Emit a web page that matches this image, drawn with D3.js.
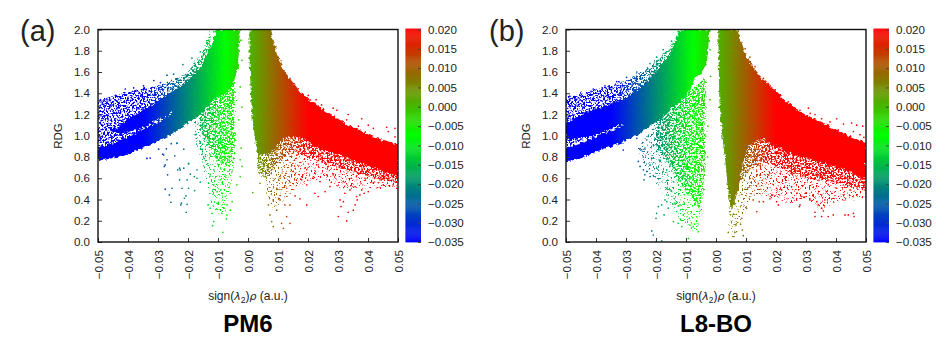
<!DOCTYPE html>
<html>
<head>
<meta charset="utf-8">
<script src="https://cdn.jsdelivr.net/npm/d3@7"></script>
<style>
  body { margin: 0; background: #fff; }
  text { font-family: "Liberation Sans", Arial, sans-serif; fill: #222; }
</style>
</head>
<body>
<script>
var xTicks = [-0.05, -0.04, -0.03, -0.02, -0.01, 0, 0.01, 0.02, 0.03, 0.04, 0.05];
var yTicks = [0, 0.2, 0.4, 0.6, 0.8, 1, 1.2, 1.4, 1.6, 1.8, 2];
var colorTicks = [-0.035, -0.03, -0.025, -0.02, -0.015, -0.01, -0.005, 0, 0.005, 0.01, 0.015, 0.02];
var colorStops = [-0.035, -0.0075, 0.02];
var colorNames = ['#0000ff', '#00ff00', '#ff0000'];

// the thousands of dots can't be read one by one, so the clouds are [x, low, high] outlines
// speckle on them is only an svg filter, not data
var pm6Dense = [
  [[-.05,.76,.89],[-.045,.79,.93],[-.04,.83,.99],[-.035,.89,1.06],[-.03,.95,1.12],[-.025,1.02,1.21]],
  [[-.046,1.05,1.06],[-.043,1.02,1.08],[-.04,1.03,1.16],[-.035,1.09,1.24],[-.03,1.15,1.33],[-.025,1.23,1.42]],
  [[-.025,1.02,1.42],[-.02,1.12,1.52],[-.015,1.22,1.68],[-.012,1.33,1.87],[-.0105,1.38,2],[-.0092,1.37,2],[-.0065,1.42,2],[-.0048,1.5,2],[-.0033,1.65,2],[-.0027,1.98,2]],
  [[.0005,1.7,2],[.0012,1.25,2],[.0023,.97,2],[.0035,.82,2],[.0073,.84,2],[.0095,.9,1.78],[.0118,.97,1.62],[.0145,1,1.52],[.0173,.98,1.42],[.02,.95,1.35],[.022,.91,1.31],[.025,.87,1.25],[.0273,.85,1.2],[.03,.83,1.16],[.032,.81,1.12],[.035,.77,1.08],[.04,.72,1.02],[.043,.69,.98],[.045,.67,.96],[.05,.62,.92]]
];
var pm6Thick = [
  [[-.05,.88,1.33],[-.04,.95,1.42],[-.03,1.1,1.47],[-.025,1.2,1.52],[-.02,1.3,1.6],[-.015,1.45,1.8],[-.0125,1.7,2]],
  [[-.016,1.05,1.2],[-.012,.85,1.35],[-.0095,.75,1.45],[-.0065,.7,1.5],[-.0045,.85,1.5]],
  [[.003,.65,.95],[.006,.6,.9],[.01,.75,1],[.015,.85,1.02],[.02,.8,.98],[.03,.7,.85],[.04,.62,.75],[.05,.55,.65]]
];
var pm6Thin = [
  [[-.018,1,1.12],[-.014,.6,1.25],[-.012,.32,1.35],[-.0095,.25,1.45],[-.0075,.3,1.5],[-.0055,.6,1.5],[-.004,.8,1.5]],
  [[.003,.75,.95],[.0051,.7,.85],[.0062,.44,.85],[.0084,.3,.9],[.012,.4,1],[.018,.55,1],[.025,.6,.9],[.032,.5,.85],[.04,.5,.78],[.05,.52,.65]]
];
var pm6Dots = [
  [-.0326,.79],[-.0298,.874],[-.0272,.877],[-.0256,.925],[-.0237,.931],[-.0214,.874],[-.0284,.827],[-.027,.774],[-.0244,.811],[-.0279,.711],
  [-.0228,.695],[-.0198,.736],[-.0214,.695],[-.0268,.632],[-.0234,.679],[-.0192,.638],[-.017,.679],[-.0179,.616],[-.017,.6],[-.0159,.563],
  [-.0228,.585],[-.0203,.585],[-.0253,.506],[-.0276,.497],[-.022,.506],[-.0198,.506],[-.0178,.484],[-.0262,.443],[-.0207,.434],[-.0212,.412],
  [-.0257,.374],[-.0222,.365],[-.0224,.349],[-.0203,.355],[-.0206,.28],
  [-.0084,.091],[-.0118,.154],[-.0114,.192],[-.012,.27],[-.0126,.318],[-.0133,.349],[-.0087,.27],[-.0072,.217],[-.007,.255],[-.0059,.3],
  [-.0103,.365],[-.0081,.318],[-.007,.349],[-.0053,.38],[-.0076,.428],[-.0059,.459],[-.0037,.538],[-.0114,.538],[-.0131,.553],[-.0103,.475],
  [-.0092,.585],[-.0126,.632],[-.0114,.679],[-.0076,.632],[-.0053,.664],[-.0026,.616],[-.002,.711],[-.0142,.805],[-.0126,.82],[-.0103,.789],
  [-.0076,.774],[-.0048,.789],[-.0023,.884],[-.0026,.774],[-.0161,.947],[-.0176,1.01],[-.0137,.915],[-.0092,.962],[-.0059,.947],
  [-.0492,1.34],[-.047,1.34],[-.0442,1.38],[-.0409,1.44],[-.0381,1.45],[-.0348,1.47],[-.0314,1.52],[-.0292,1.5],[-.027,1.57],[-.0248,1.58],
  [-.0217,1.67],[-.0187,1.73],[-.0159,1.79],[-.0137,1.87],[-.0114,1.98],[-.0098,1.98],[-.0023,1.9],[-.002,1.71],[-.0026,1.46],[-.002,1.27],
  [-.0031,1.15],[-.0042,1.02],[-.0437,.8],[-.0348,.93],[-.0337,.787],[-.0281,.819],[-.0237,.929],[-.0276,.725],[-.0226,.678],[-.0198,.74],
  [.0084,1.87],[.0093,1.84],[.0101,1.74],[.0112,1.67],[.014,1.54],[.0201,1.38],[.0227,1.34],[.0245,1.29],[.0284,1.26],[.0296,1.24],
  [.0334,1.2],[.0329,1.15],[.0379,1.16],[.0401,1.1],[.0418,1.07],[.0368,1.09],[.0462,1.08],[.049,1.07],[.049,.99],[.0468,1.04],
  [.0301,.24],[.0329,.198],[.031,.333],[.0318,.38],[.0334,.28],[.0351,.3],[.0357,.35],[.0364,.396],[.0373,.443],[.0379,.49],
  [.0387,.459],[.0362,.428],[.0401,.475],[.0307,.396],[.0323,.459],[.034,.49],[.0357,.522],[.0273,.522],[.0257,.475],[.0234,.428],
  [.0223,.459],[.0196,.349],[.0173,.406],[.0157,.434],[.014,.349],[.0123,.349],[.014,.176],[.0118,.129],[.0112,.176],[.0129,.239],
  [.0084,.145],[.0079,.192],[.0073,.255],[.0096,.3],[.0068,.349],[.0107,.396],[.0084,.396],[.0016,.465],[.004,.553],[.0451,.538],
  [.0484,.538],[.044,.585],[.0496,.506],[.0418,.553],[.0196,.538],[.0179,.585],[.0218,.6],[.024,.569],[.0284,.632],[.0318,.569],
  [.0345,.6],[.039,.6],[.0412,.632],[.0462,.632],[.0151,.664],[.019,.695],[.0229,.726],[.0268,.711],[.0307,.711],[.0357,.695],
  [.0107,.6],[.0129,.506],[.0096,.506]
];

var l8boDense = [
  [[-.05,.76,.88],[-.0476,.77,.91],[-.045,.79,.94],[-.04,.85,.99],[-.035,.9,1.05],[-.031,.94,1.1]],
  [[-.05,.96,1.12],[-.045,.98,1.2],[-.04,1.01,1.25],[-.035,1.07,1.3],[-.031,1.12,1.34]],
  [[-.031,.94,1.34],[-.025,1.03,1.46],[-.02,1.13,1.6],[-.015,1.25,1.78],[-.012,1.33,2],[-.0098,1.37,2],[-.0065,1.55,2],[-.0045,1.6,2],[-.003,1.7,2],[-.0022,1.95,2]],
  [[.0008,1.9,2],[.0011,1.35,2],[.0019,1.05,2],[.003,.8,2],[.0071,.82,2],[.0102,.9,1.74],[.0114,.93,1.69],[.0158,.97,1.52],[.0202,.9,1.42],[.0237,.85,1.31],[.0258,.83,1.27],[.0314,.774,1.18],[.0414,.7,1.04],[.05,.585,.93]],
  [[.0024,.95,1.2],[.003,.79,1.2],[.0041,.47,1],[.0052,.3,.9],[.0075,.5,.9],[.009,.75,.95],[.011,.93,1]]
];
var l8boThick = [
  [[-.05,.9,1.37],[-.04,1,1.44],[-.03,1.1,1.52],[-.022,1.3,1.65],[-.015,1.6,1.85],[-.012,1.9,2]],
  [[-.02,.9,1.15],[-.016,.75,1.25],[-.012,.55,1.35],[-.009,.45,1.42],[-.0055,.3,1.5],[-.0038,.7,1.55]],
  [[.006,.55,.9],[.009,.6,.9],[.012,.7,.95],[.017,.75,.98],[.025,.65,.85],[.03,.6,.8],[.04,.55,.72],[.05,.48,.6]]
];
var l8boThin = [
  [[-.026,.85,.9],[-.023,.65,1],[-.02,.55,1.13],[-.016,.4,1.22],[-.0125,.22,1.33],[-.0095,.12,1.4],[-.0065,.1,1.47],[-.0045,.3,1.5],[-.0035,.7,1.55],[-.003,1.3,1.6]],
  [[.0045,.1,.6],[.006,.03,.6],[.0085,.2,.85],[.012,.45,.95],[.018,.42,.95],[.025,.36,.85],[.03,.42,.8],[.035,.3,.75],[.04,.38,.72],[.05,.42,.6]]
];
var l8boDots = [
  [-.0259,.758],[-.0248,.868],[-.0237,.884],[-.0253,.711],[-.0242,.679],[-.0231,.664],[-.0237,.632],[-.022,.616],[-.024,.585],[-.0214,.789],
  [-.0198,.852],[-.0187,.758],[-.0164,.884],[-.0209,.915],[-.0226,.994],[-.0176,.664],[-.0153,.726],[-.0198,.695],[-.0142,.569],[-.0164,.506],
  [-.0153,.491],[-.017,.396],[-.0181,.349],[-.0192,.333],[-.0198,.27],[-.0173,.255],[-.0159,.318],[-.02,.223],[-.0164,.38],[-.0214,.104],
  [-.0209,.066],[-.0181,.01],[-.02,.003],[-.0142,.192],[-.0131,.286],[-.0126,.176],[-.0114,.145],[-.0092,.035],[-.0087,.16],[-.0059,.097],
  [-.0076,.145],[-.012,.349],[-.0137,.365],[-.0109,.255],
  [-.0487,1.37],[-.0453,1.38],[-.0409,1.44],[-.037,1.47],[-.0331,1.51],[-.0298,1.55],[-.0264,1.6],[-.022,1.68],[-.0198,1.74],[-.0176,1.81],
  [-.0148,1.89],[-.0126,1.98],[-.002,1.81],[-.0018,1.56],[-.002,1.34],[-.0027,1.09],[-.0028,.8],[-.0309,.866],[-.0264,.976],[-.0231,.96],
  [-.0253,.88],[-.0242,.8],[-.022,.725],[-.0187,.77],[-.0164,.678],[-.012,.8],[-.0098,.71],[-.0064,.8],[-.0042,.71],[-.0148,.897],
  [-.0109,1.085],[-.0076,.96],
  [.0241,1.32],[.0258,1.26],[.0308,1.26],[.0314,1.21],[.0352,1.16],[.038,1.13],[.0402,1.16],[.0425,1.11],[.0452,1.12],[.0469,1.1],
  [.0489,1.09],[.0458,1.04],[.048,1.01],[.0493,.985],[.033,1.2],[.028,1.24],[.0213,1.38],[.0186,1.45],[.0158,1.54],[.013,1.65],
  [.0113,1.74],[.0097,1.82],
  [.033,.24],[.0352,.24],[.0374,.24],[.0391,.255],[.043,.255],[.0458,.27],[.046,.24],[.0441,.255],[.033,.28],[.0341,.349],
  [.0352,.318],[.0358,.292],[.0336,.38],[.0363,.396],[.0352,.443],[.0313,.396],[.028,.349],[.0278,.333],[.0208,.349],[.0202,.38],
  [.018,.406],[.0186,.443],[.0158,.38],[.0144,.38],[.0124,.396],[.0136,.286],[.0102,.318],[.0086,.223],[.0082,.167],[.0067,.16],
  [.0088,.113],[.0063,.09],[.0041,.09],[.0091,.06],[.0252,.522],[.0269,.459],[.0286,.428],[.0219,.49],[.023,.6],[.0269,.6],
  [.0297,.632],[.0336,.632],[.0374,.538],[.0402,.506],[.0436,.553],[.0469,.585],[.0497,.49],[.0386,.459],[.0202,.506],[.0447,.49],[.0491,.553]
];

var width = 951;
var height = 351;
var plotTop = 29.5;
var plotBottom = 242;
var plotWidth = 300;

var svg = d3.select('body').append('svg')
    .attr('width', width)
    .attr('height', height)
    .style('display', 'block');

var defs = svg.append('defs');

makeFilter('rough', null, 3);
makeFilter('speckle-thick', '0 0 0 0 0  0 0 0 0 0  0 0 0 0 0  9 0 0 0 -4.1', 7);
makeFilter('speckle-thin', '0 0 0 0 0  0 0 0 0 0  0 0 0 0 0  9 0 0 0 -5.2', 11);

var color = d3.scaleLinear().domain(colorStops).range(colorNames).clamp(true);
var y = d3.scaleLinear().domain([0, 2]).range([plotBottom, plotTop]);

drawPanel('a', 98, '(a)', 20, 'PM6', pm6Dense, pm6Thick, pm6Thin, pm6Dots);
drawPanel('b', 566, '(b)', 489, 'L8-BO', l8boDense, l8boThick, l8boThin, l8boDots);

function makeFilter(id, matrix, seed) {
    var f = defs.append('filter')
        .attr('id', id)
        .attr('filterUnits', 'userSpaceOnUse')
        .attr('x', 0).attr('y', 0)
        .attr('width', width).attr('height', height)
        .attr('color-interpolation-filters', 'sRGB');
    f.append('feTurbulence')
        .attr('type', 'fractalNoise').attr('baseFrequency', 0.3)
        .attr('numOctaves', 2).attr('seed', seed).attr('result', 'wobble');
    f.append('feDisplacementMap')
        .attr('in', 'SourceGraphic').attr('in2', 'wobble')
        .attr('scale', 5).attr('xChannelSelector', 'R').attr('yChannelSelector', 'G')
        .attr('result', 'moved');
    if (matrix) {
        f.append('feTurbulence')
            .attr('type', 'fractalNoise').attr('baseFrequency', 0.55)
            .attr('numOctaves', 2).attr('seed', seed + 1).attr('result', 'noise');
        f.append('feColorMatrix')
            .attr('in', 'noise').attr('type', 'matrix').attr('values', matrix).attr('result', 'grain');
        f.append('feComposite')
            .attr('in', 'moved').attr('in2', 'grain').attr('operator', 'in');
    }
}

function drawPanel(id, left, letter, letterX, title, dense, thick, thin, dots) {
    var x = d3.scaleLinear().domain([-0.05, 0.05]).range([left, left + plotWidth]);

    var gradient = defs.append('linearGradient')
        .attr('id', 'grad-' + id)
        .attr('gradientUnits', 'userSpaceOnUse')
        .attr('x1', x(-0.05)).attr('x2', x(0.05))
        .attr('y1', 0).attr('y2', 0);
    gradient.selectAll('stop')
        .data(d3.range(-0.05, 0.0501, 0.0025))
        .enter().append('stop')
        .attr('offset', (d) => { return (x(d) - left) / plotWidth })
        .attr('stop-color', (d) => { return color(d) });

    defs.append('clipPath').attr('id', 'clip-' + id)
        .append('rect')
        .attr('x', left).attr('y', plotTop)
        .attr('width', plotWidth).attr('height', plotBottom - plotTop);

    var area = d3.area()
        .x((d) => { return x(d[0]) })
        .y0((d) => { return y(d[1]) })
        .y1((d) => { return y(d[2]) });

    var marks = svg.append('g').attr('clip-path', 'url(#clip-' + id + ')');

    [[thin, 'speckle-thin'], [thick, 'speckle-thick'], [dense, 'rough']].forEach((layer) => {
        marks.append('g')
            .attr('filter', 'url(#' + layer[1] + ')')
            .selectAll('path')
            .data(layer[0])
            .enter().append('path')
            .attr('d', area)
            .attr('fill', 'url(#grad-' + id + ')');
    });

    marks.selectAll('circle')
        .data(dots)
        .enter().append('circle')
        .attr('cx', (d) => { return x(d[0]) })
        .attr('cy', (d) => { return y(d[1]) })
        .attr('r', 0.85)
        .attr('fill', (d) => { return color(d[0]) });

    // axes, ticks pointing inward like gnuplot
    var xAxis = svg.append('g')
        .attr('transform', 'translate(0,' + plotBottom + ')')
        .call(d3.axisBottom(x).tickValues(xTicks).tickFormat(d3.format('.2f')).tickSize(-4).tickPadding(6));
    xAxis.selectAll('text')
        .attr('transform', 'rotate(-90)')
        .attr('x', -8).attr('y', 0).attr('dy', '0.36em')
        .style('text-anchor', 'end');

    var yAxis = svg.append('g')
        .attr('transform', 'translate(' + left + ',0)')
        .call(d3.axisLeft(y).tickValues(yTicks).tickFormat(d3.format('.1f')).tickSize(-4).tickPadding(8));

    svg.append('rect')
        .attr('x', left).attr('y', plotTop)
        .attr('width', plotWidth).attr('height', plotBottom - plotTop)
        .attr('fill', 'none').attr('stroke', '#111').attr('stroke-width', 1.4);

    [xAxis, yAxis].forEach((a) => {
        a.select('.domain').remove();
        a.selectAll('line').attr('stroke', '#333');
        a.selectAll('text').style('font-size', '11.6px').style('font-family', '"Liberation Sans", Arial, sans-serif').attr('fill', '#222');
    });

    // colour bar
    var barLeft = left + plotWidth + 7.5;
    var barWidth = 15.5;
    var c = d3.scaleLinear().domain([-0.035, 0.02]).range([plotBottom, plotTop]);
    svg.append('g').selectAll('rect')
        .data(d3.range(-0.035, 0.02, 0.00025))
        .enter().append('rect')
        .attr('x', barLeft)
        .attr('y', (d) => { return c(d + 0.00025) })
        .attr('width', barWidth)
        .attr('height', (d) => { return c(d) - c(d + 0.00025) + 0.4 })
        .attr('fill', (d) => { return color(d) });

    var cAxis = svg.append('g')
        .attr('transform', 'translate(' + (barLeft + barWidth) + ',0)')
        .call(d3.axisRight(c).tickValues(colorTicks).tickFormat(d3.format('.3f')).tickSize(-3).tickPadding(7));
    cAxis.select('.domain').remove();
    cAxis.selectAll('line').attr('stroke', '#444');
    cAxis.selectAll('text').style('font-size', '11.6px').style('font-family', '"Liberation Sans", Arial, sans-serif').attr('fill', '#222');

    // labels
    var mid = left + plotWidth / 2;
    svg.append('text')
        .attr('x', letterX).attr('y', 41)
        .style('font-size', '29px')
        .text(letter);

    svg.append('text')
        .attr('transform', 'translate(' + (left - 36) + ',136) rotate(-90)')
        .attr('text-anchor', 'middle')
        .style('font-size', '11.5px')
        .text('RDG');

    var xLabel = svg.append('text')
        .attr('x', mid).attr('y', 300)
        .attr('text-anchor', 'middle')
        .style('font-size', '12px');
    xLabel.append('tspan').text('sign(');
    xLabel.append('tspan').style('font-family', '"DejaVu Sans"').style('font-style', 'italic').style('font-size', '11px').text('λ');
    xLabel.append('tspan').attr('dy', 3).style('font-size', '8.5px').text('2');
    xLabel.append('tspan').attr('dy', -3).text(')');
    xLabel.append('tspan').style('font-family', '"DejaVu Sans"').style('font-style', 'italic').style('font-size', '11px').text('ρ');
    xLabel.append('tspan').text(' (a.u.)');

    svg.append('text')
        .attr('x', mid).attr('y', 332)
        .attr('text-anchor', 'middle')
        .style('font-size', '24px')
        .style('font-weight', 'bold')
        .style('fill', '#000')
        .text(title);
}
</script>
</body>
</html>
